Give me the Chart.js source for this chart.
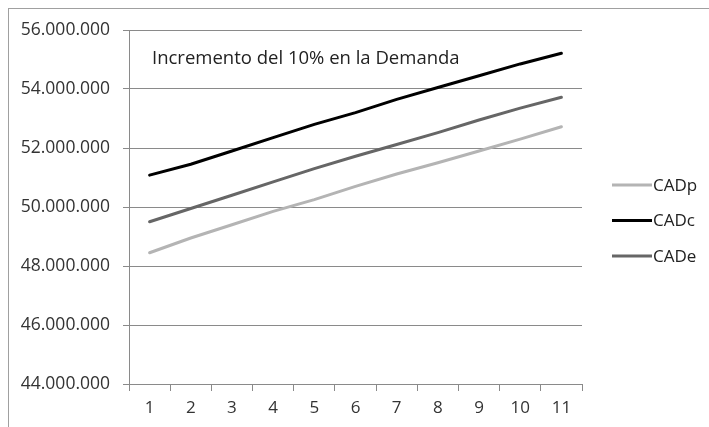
<!DOCTYPE html>
<html>
<head>
<meta charset="utf-8">
<script src="https://cdn.jsdelivr.net/npm/chart.js@4/dist/chart.umd.min.js"></script>
<style>
  html, body { margin: 0; padding: 0; background: #fff; }
  #wrap { width: 709px; height: 427px; position: relative; }
</style>
</head>
<body>
<div id="wrap"><canvas id="grafica" width="709" height="427"></canvas></div>
<script>
// Datos
const periodos = ['1', '2', '3', '4', '5', '6', '7', '8', '9', '10', '11'];
const cadp = [48450000, 48950000, 49400000, 49850000, 50250000, 50700000, 51120000, 51500000, 51900000, 52300000, 52720000];
const cadc = [51080000, 51450000, 51900000, 52350000, 52800000, 53200000, 53650000, 54050000, 54450000, 54850000, 55210000];
const cade = [49500000, 49950000, 50400000, 50850000, 51300000, 51720000, 52120000, 52520000, 52950000, 53350000, 53720000];
const titulo = 'Incremento del 10% en la Demanda';

const fuente = '"Open Sans", sans-serif';
const gris = '#8a8a8a';

// Se formatea con punto como separador de miles
function miles(v) {
    return String(v).replace(/\B(?=(\d{3})+(?!\d))/g, '.');
}

// Marco exterior, título dentro del área y leyenda a la derecha
const extras = {
    id: 'extras',
    beforeDraw(chart) {
        const ctx = chart.ctx;
        ctx.save();
        ctx.strokeStyle = '#a0a0a0';
        ctx.lineWidth = 1;
        ctx.strokeRect(8.5, 8.5, 900, 900);
        ctx.restore();
    },
    afterDraw(chart) {
        const ctx = chart.ctx;
        const area = chart.chartArea;
        ctx.save();
        ctx.fillStyle = '#222';
        ctx.font = '18.5px ' + fuente;
        ctx.textBaseline = 'middle';
        ctx.fillText(titulo, area.left + 23, area.top + 29);

        // leyenda
        ctx.font = '17px ' + fuente;
        chart.data.datasets.forEach((ds, i) => {
            const y = 185 + i * 35.5;
            ctx.strokeStyle = ds.borderColor;
            ctx.lineWidth = ds.borderWidth;
            ctx.beginPath();
            ctx.moveTo(612, y);
            ctx.lineTo(652, y);
            ctx.stroke();
            ctx.fillStyle = '#222';
            ctx.fillText(ds.label, 653, y + 1);
        });
        ctx.restore();
    }
};

new Chart(document.getElementById('grafica'), {
    type: 'line',
    data: {
        labels: periodos,
        datasets: [
            { label: 'CADp', data: cadp, borderColor: '#b4b4b4', backgroundColor: '#b4b4b4', borderWidth: 3 },
            { label: 'CADc', data: cadc, borderColor: '#000000', backgroundColor: '#000000', borderWidth: 3 },
            { label: 'CADe', data: cade, borderColor: '#666666', backgroundColor: '#666666', borderWidth: 3 }
        ]
    },
    options: {
        responsive: false,
        animation: false,
        layout: { padding: { top: 30, right: 127, bottom: 0, left: 0 } },
        elements: { point: { radius: 0 }, line: { tension: 0, borderCapStyle: 'round' } },
        plugins: {
            legend: { display: false },
            tooltip: { enabled: false }
        },
        scales: {
            x: {
                offset: true,
                grid: { display: true, offset: true, drawOnChartArea: false, color: gris, tickLength: 7 },
                border: { color: gris },
                ticks: { color: '#333', font: { family: fuente, size: 17 }, padding: 7 },
                afterFit(scale) { scale.height = 43; }
            },
            y: {
                min: 44000000,
                max: 56000000,
                grid: { color: gris, tickLength: 6 },
                border: { color: gris },
                ticks: {
                    stepSize: 2000000,
                    color: '#333',
                    font: { family: fuente, size: 17.5 },
                    padding: 13,
                    callback: v => miles(v)
                },
                afterFit(scale) { scale.width = 129; }
            }
        }
    },
    plugins: [extras]
});
</script>
</body>
</html>
